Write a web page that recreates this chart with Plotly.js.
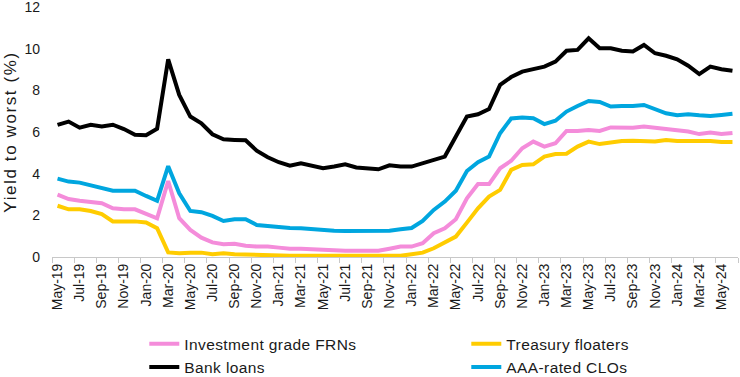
<!DOCTYPE html>
<html>
<head>
<meta charset="utf-8">
<script src="https://cdn.plot.ly/plotly-3.0.1.min.js"></script>
<style>
  html, body { margin: 0; padding: 0; background: #fff; }
  #chart { width: 740px; height: 377px; }
  .ytitle { letter-spacing: 1.6px; }
  .legendtext { letter-spacing: 0.4px; }
</style>
</head>
<body>
<div id="chart"></div>
<script>
const months = [
  "May-19","Jun-19","Jul-19","Aug-19","Sep-19","Oct-19","Nov-19","Dec-19",
  "Jan-20","Feb-20","Mar-20","Apr-20","May-20","Jun-20","Jul-20","Aug-20","Sep-20","Oct-20","Nov-20","Dec-20",
  "Jan-21","Feb-21","Mar-21","Apr-21","May-21","Jun-21","Jul-21","Aug-21","Sep-21","Oct-21","Nov-21","Dec-21",
  "Jan-22","Feb-22","Mar-22","Apr-22","May-22","Jun-22","Jul-22","Aug-22","Sep-22","Oct-22","Nov-22","Dec-22",
  "Jan-23","Feb-23","Mar-23","Apr-23","May-23","Jun-23","Jul-23","Aug-23","Sep-23","Oct-23","Nov-23","Dec-23",
  "Jan-24","Feb-24","Mar-24","Apr-24","May-24","Jun-24"
];

const investmentGradeFRNs = [
  2.99, 2.78, 2.70, 2.66, 2.58, 2.34, 2.29, 2.29, 2.10, 1.86,
  3.65, 1.86, 1.30, 0.93, 0.70, 0.61, 0.64, 0.54, 0.50, 0.50,
  0.45, 0.40, 0.40, 0.37, 0.34, 0.30, 0.30, 0.30, 0.30, 0.30,
  0.40, 0.50, 0.50, 0.66, 1.14, 1.38, 1.81, 2.82, 3.50, 3.50,
  4.26, 4.62, 5.22, 5.54, 5.30, 5.46, 6.05, 6.05, 6.10, 6.05,
  6.22, 6.22, 6.20, 6.26, 6.20, 6.16, 6.06, 6.02, 5.90, 5.97,
  5.90, 5.95
];

const treasuryFloaters = [
  2.46, 2.29, 2.29, 2.21, 2.06, 1.71, 1.71, 1.71, 1.66, 1.38,
  0.22, 0.18, 0.21, 0.21, 0.13, 0.18, 0.13, 0.11, 0.11, 0.10,
  0.08, 0.06, 0.06, 0.05, 0.05, 0.06, 0.06, 0.06, 0.06, 0.06,
  0.06, 0.06, 0.13, 0.21, 0.42, 0.69, 0.98, 1.65, 2.34, 2.90,
  3.22, 4.18, 4.42, 4.45, 4.82, 4.94, 4.96, 5.30, 5.54, 5.42,
  5.50, 5.57, 5.58, 5.58, 5.54, 5.62, 5.57, 5.57, 5.57, 5.57,
  5.52, 5.52
];

const bankLoans = [
  6.34, 6.50, 6.21, 6.35, 6.26, 6.35, 6.14, 5.87, 5.84, 6.16,
  9.49, 7.78, 6.74, 6.42, 5.89, 5.65, 5.62, 5.60, 5.10, 4.79,
  4.55, 4.38, 4.50, 4.37, 4.26, 4.34, 4.45, 4.30, 4.26, 4.21,
  4.40, 4.34, 4.34, 4.50, 4.69, 4.82, 5.78, 6.74, 6.85, 7.10,
  8.26, 8.64, 8.90, 9.01, 9.14, 9.38, 9.90, 9.94, 10.50, 10.02,
  10.02, 9.90, 9.86, 10.18, 9.78, 9.66, 9.49, 9.18, 8.78, 9.14,
  9.01, 8.94
];

const aaaRatedCLOs = [
  3.76, 3.62, 3.57, 3.44, 3.35, 3.18, 3.18, 3.18, 2.93, 2.70,
  4.36, 3.06, 2.21, 2.15, 1.97, 1.73, 1.81, 1.81, 1.54, 1.49,
  1.41, 1.39, 1.38, 1.33, 1.30, 1.26, 1.25, 1.25, 1.25, 1.25,
  1.26, 1.33, 1.39, 1.73, 2.26, 2.66, 3.18, 4.13, 4.55, 4.82,
  5.94, 6.65, 6.70, 6.66, 6.38, 6.54, 6.98, 7.25, 7.49, 7.44,
  7.22, 7.25, 7.25, 7.30, 7.09, 6.90, 6.80, 6.85, 6.80, 6.77,
  6.82, 6.88
];

const seriesNames = ["Investment grade FRNs", "Treasury floaters", "Bank loans", "AAA-rated CLOs"];
const seriesColors = ["#F48CDA", "#FFCC00", "#000000", "#00A6DF"];
const seriesValues = [investmentGradeFRNs, treasuryFloaters, bankLoans, aaaRatedCLOs];

const FONT = "Liberation Sans, Arial, sans-serif";

const traces = seriesValues.map((vals, k) => ({
  type: "scatter",
  mode: "lines",
  x: months,
  y: vals,
  name: seriesNames[k],
  line: { color: seriesColors[k], width: 4 },
  hoverinfo: "x+y+name"
}));

const layout = {
  width: 740,
  height: 377,
  paper_bgcolor: "#ffffff",
  plot_bgcolor: "#ffffff",
  margin: { l: 52, r: 2, t: 7, b: 120, autoexpand: false },
  font: { family: FONT, color: "#1a1a1a", size: 13 },
  showlegend: true,
  xaxis: {
    type: "category",
    range: [-0.5, months.length - 0.5],
    dtick: 2,
    tickson: "boundaries",
    ticks: "outside",
    ticklen: 5,
    tickcolor: "#c8c8c8",
    tickwidth: 1,
    showline: true,
    linecolor: "#c8c8c8",
    linewidth: 1,
    showgrid: false,
    zeroline: false,
    tickangle: -90,
    tickfont: { family: FONT, size: 14, color: "#1a1a1a" },
    fixedrange: true
  },
  yaxis: {
    range: [0, 12],
    tickvals: [0, 2, 4, 6, 8, 10, 12],
    ticklabeloverflow: "allow",
    showgrid: false,
    zeroline: false,
    showline: false,
    ticks: "",
    ticklabelstandoff: 11,
    tickfont: { family: FONT, size: 14, color: "#1a1a1a" },
    title: { text: "Yield to worst (%)", font: { family: FONT, size: 17, color: "#1a1a1a" }, standoff: 3 },
    fixedrange: true
  },
  legend: {
    orientation: "h",
    xref: "container",
    yref: "container",
    x: 0.195,
    xanchor: "left",
    y: 0.132,
    yanchor: "top",
    entrywidth: 277,
    entrywidthmode: "pixels",
    itemwidth: 30,
    tracegroupgap: 0,
    font: { family: FONT, size: 15.5, color: "#1a1a1a" },
    bgcolor: "rgba(0,0,0,0)"
  }
};

Plotly.newPlot("chart", traces, layout, { displayModeBar: false, staticPlot: true });
</script>
</body>
</html>
